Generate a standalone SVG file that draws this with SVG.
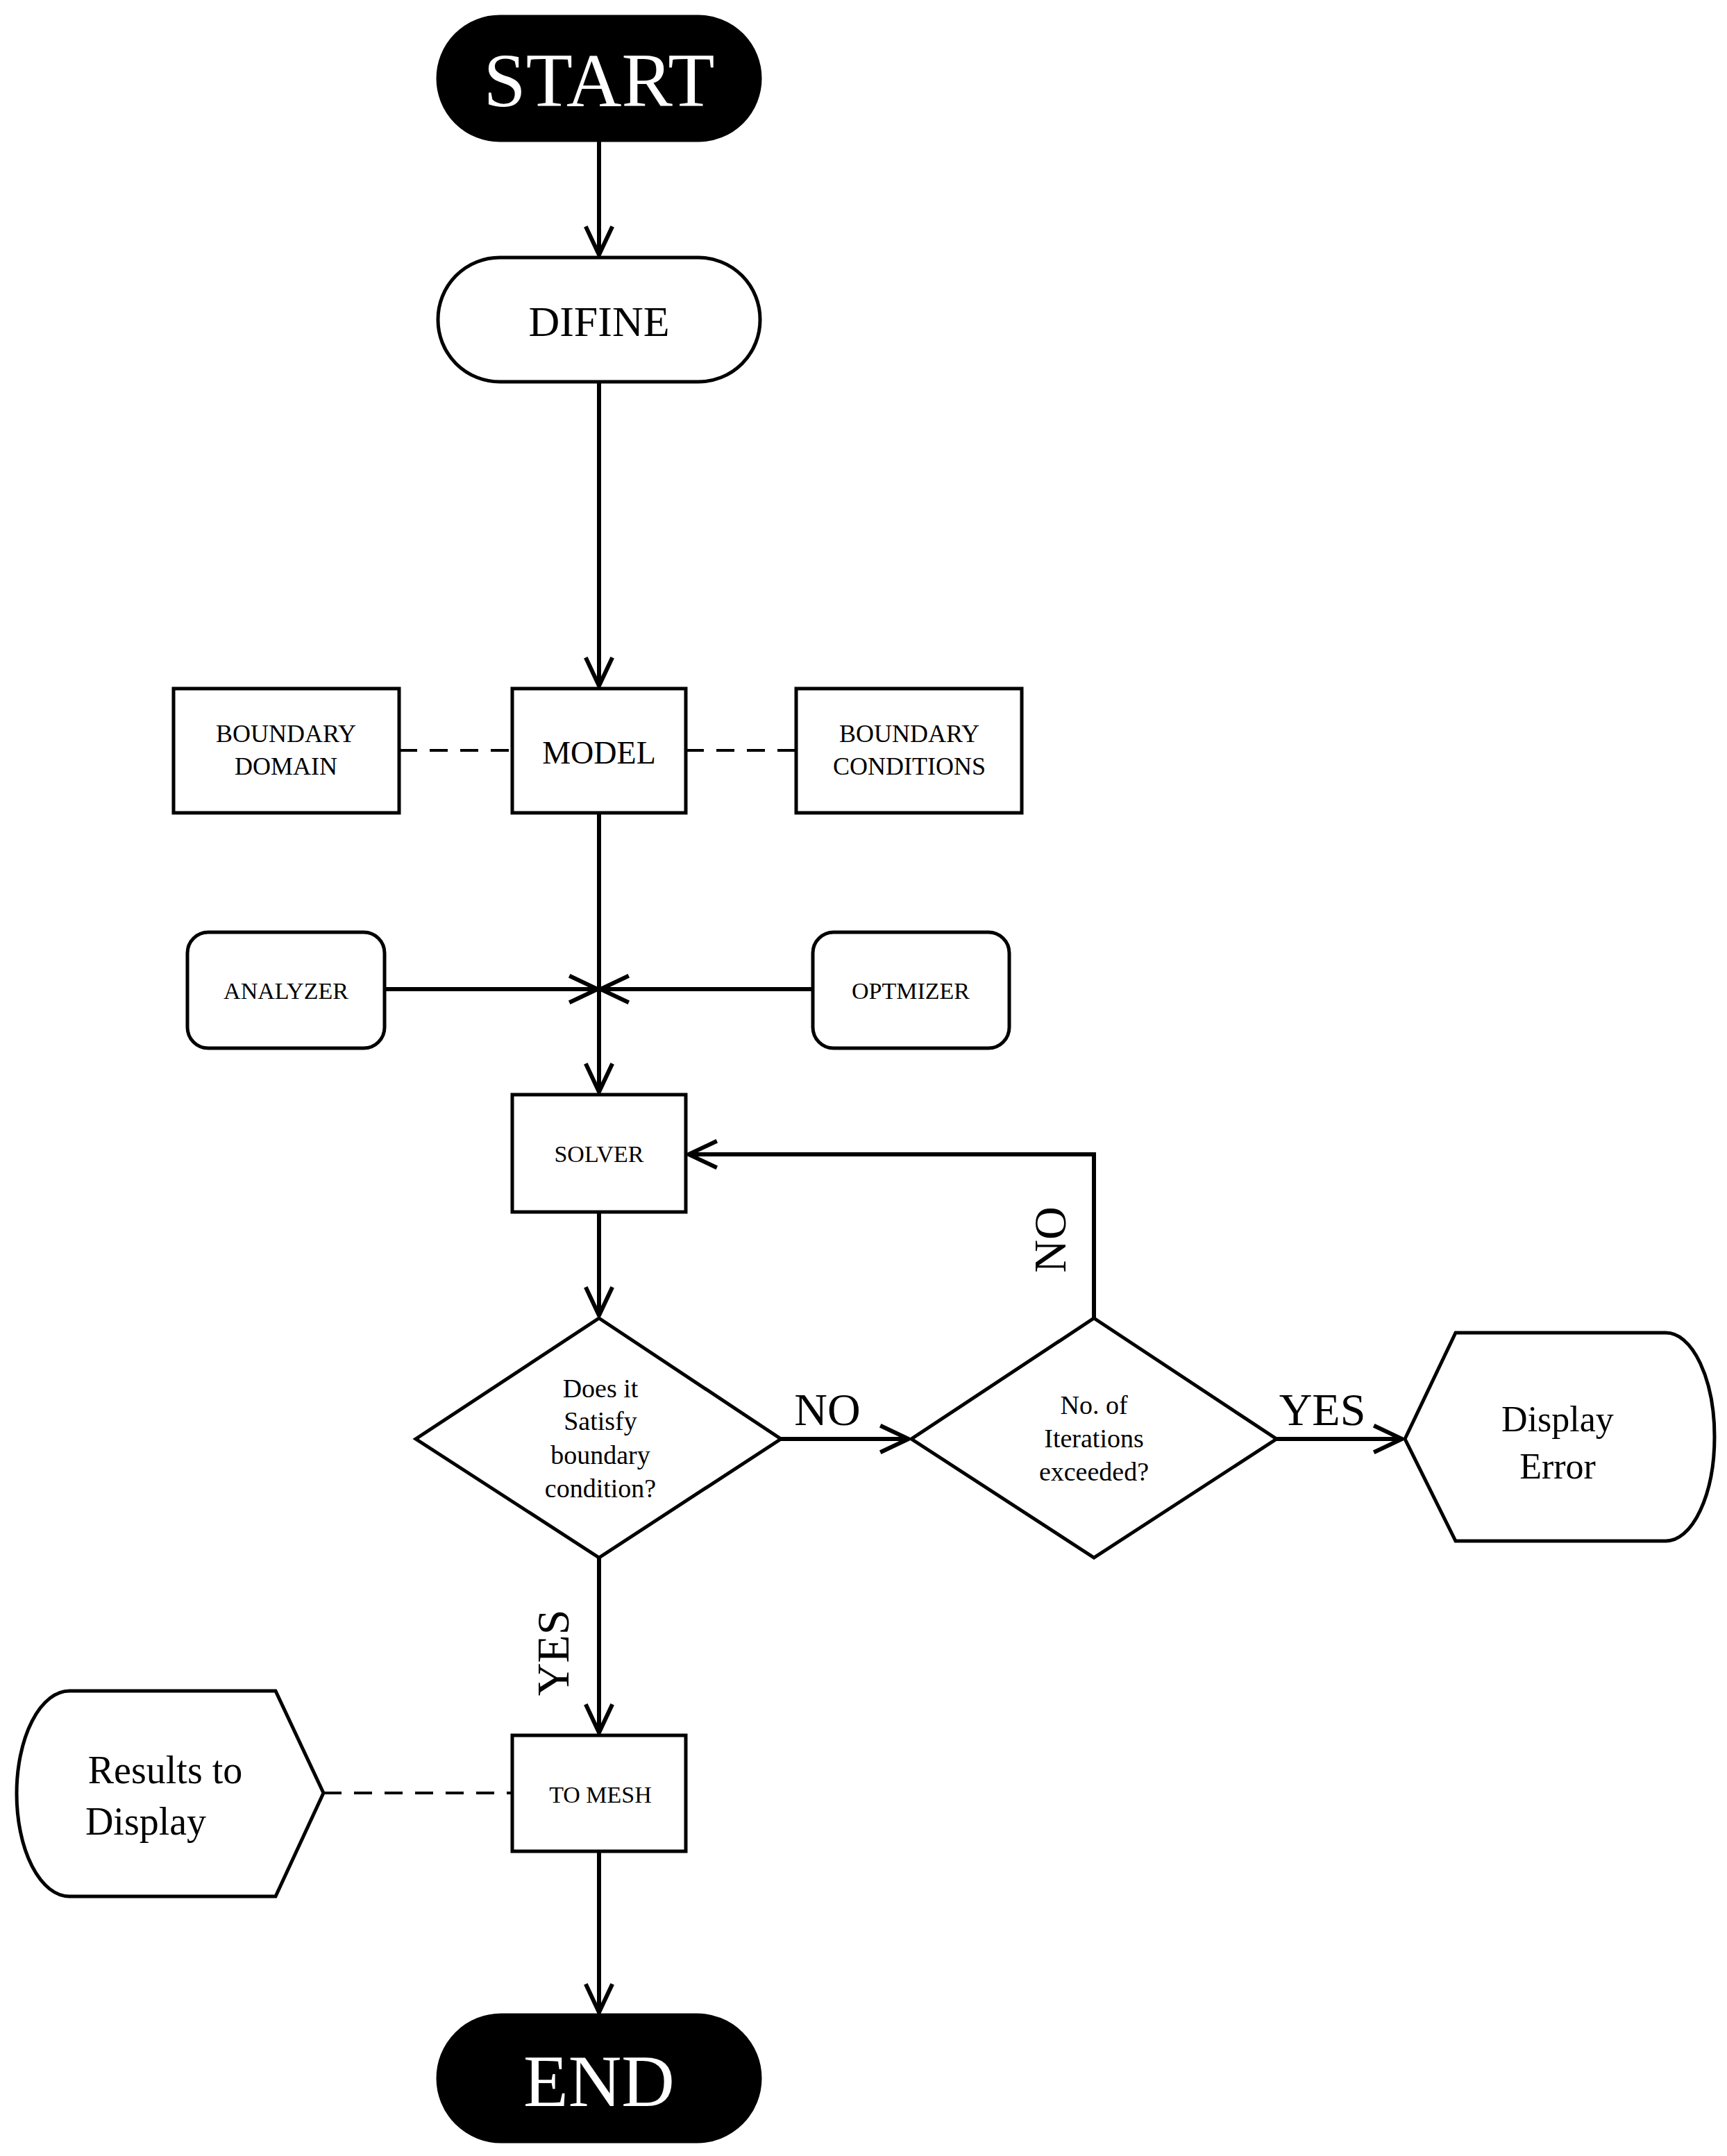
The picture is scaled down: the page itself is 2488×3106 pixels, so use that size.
<svg xmlns="http://www.w3.org/2000/svg" width="2488" height="3106" viewBox="0 0 2488 3106">
<style>
.s{fill:#fff;stroke:#000;stroke-width:5}
.b{fill:#000;stroke:#000;stroke-width:5}
.t{font-family:"Liberation Serif",serif;text-anchor:middle;dominant-baseline:central;fill:#000}
.w{fill:#fff}
.l{fill:none;stroke:#000;stroke-width:6}
.d{fill:none;stroke:#000;stroke-width:4;stroke-dasharray:26 18}
</style>
<defs>
<marker id="a" viewBox="0 0 20 20" refX="19" refY="10" markerWidth="8" markerHeight="8" markerUnits="strokeWidth" orient="auto">
<path d="M2,2 L19,10 L2,18" fill="none" stroke="#000" stroke-width="2.5"/>
</marker>
</defs>
<g id="connectors">
<path class="l" d="M863,202 V367" marker-end="url(#a)"/>
<path class="l" d="M863,550 V988" marker-end="url(#a)"/>
<path class="d" d="M575,1081 H738"/>
<path class="d" d="M988,1081 H1147"/>
<path class="l" d="M863,1171 V1573" marker-end="url(#a)"/>
<path class="l" d="M554,1425 H861" marker-end="url(#a)"/>
<path class="l" d="M1171,1425 H865" marker-end="url(#a)"/>
<path class="l" d="M863,1746 V1895" marker-end="url(#a)"/>
<path class="l" d="M1125,2073 H1309" marker-end="url(#a)"/>
<path class="l" d="M1576,1899 V1663 H992" marker-end="url(#a)"/>
<path class="l" d="M1839,2073 H2020" marker-end="url(#a)"/>
<path class="l" d="M863,2244 V2496" marker-end="url(#a)"/>
<path class="d" d="M466,2583 H738"/>
<path class="l" d="M863,2667 V2899" marker-end="url(#a)"/>
<text class="t" x="1192" y="2030" font-size="66">NO</text>
<text class="t" x="1905" y="2030" font-size="66">YES</text>
<text class="t" font-size="66" transform="translate(1512,1786) rotate(-90)">NO</text>
<text class="t" font-size="66" transform="translate(796,2381) rotate(-90)">YES</text>
</g>
<g id="start"><rect class="b" x="631" y="24" width="464" height="178" rx="89"/><text class="t w" x="863" y="116" font-size="110">START</text></g>
<g id="difine"><rect class="s" x="631" y="371" width="464" height="179" rx="89"/><text class="t" x="863" y="463" font-size="62">DIFINE</text></g>
<g id="model"><rect class="s" x="738" y="992" width="250" height="179"/><text class="t" x="863" y="1084" font-size="46">MODEL</text></g>
<g id="bdomain"><rect class="s" x="250" y="992" width="325" height="179"/><text class="t" x="412" y="1057" font-size="36">BOUNDARY</text><text class="t" x="412" y="1104" font-size="36">DOMAIN</text></g>
<g id="bcond"><rect class="s" x="1147" y="992" width="325" height="179"/><text class="t" x="1310" y="1057" font-size="36">BOUNDARY</text><text class="t" x="1310" y="1104" font-size="36">CONDITIONS</text></g>
<g id="analyzer"><rect class="s" x="270" y="1343" width="284" height="167" rx="30"/><text class="t" x="412" y="1427" font-size="34">ANALYZER</text></g>
<g id="optmizer"><rect class="s" x="1171" y="1343" width="283" height="167" rx="30"/><text class="t" x="1312" y="1427" font-size="34">OPTMIZER</text></g>
<g id="solver"><rect class="s" x="738" y="1577" width="250" height="169"/><text class="t" x="863" y="1662" font-size="34">SOLVER</text></g>
<g id="d1"><path class="s" d="M863,1899 L1125,2073 L863,2244 L599,2073 Z"/>
<text class="t" x="865" y="2000" font-size="38">Does it</text><text class="t" x="865" y="2047" font-size="38">Satisfy</text><text class="t" x="865" y="2096" font-size="38">boundary</text><text class="t" x="865" y="2144" font-size="38">condition?</text></g>
<g id="d2"><path class="s" d="M1576,1899 L1839,2073 L1576,2244 L1313,2073 Z"/>
<text class="t" x="1576" y="2024" font-size="38">No. of</text><text class="t" x="1576" y="2072" font-size="38">Iterations</text><text class="t" x="1576" y="2120" font-size="38">exceeded?</text></g>
<g id="derr"><path class="s" d="M2024,2073 L2097,1920 H2400 A70,150 0 0 1 2400,2220 H2097 Z"/>
<text class="t" x="2244" y="2044" font-size="52">Display</text><text class="t" x="2244" y="2112" font-size="52">Error</text></g>
<g id="tomesh"><rect class="s" x="738" y="2500" width="250" height="167"/><text class="t" x="865" y="2585" font-size="34">TO MESH</text></g>
<g id="results"><path class="s" d="M100,2436 H397 L466,2583 L397,2732 H100 A76,148 0 0 1 100,2436 Z"/>
<text class="t" x="238" y="2550" font-size="56">Results to</text><text class="t" x="210" y="2624" font-size="56">Display</text></g>
<g id="end"><rect class="b" x="631" y="2903" width="464" height="182" rx="91"/><text class="t w" x="863" y="2998" font-size="106">END</text></g>
</svg>
